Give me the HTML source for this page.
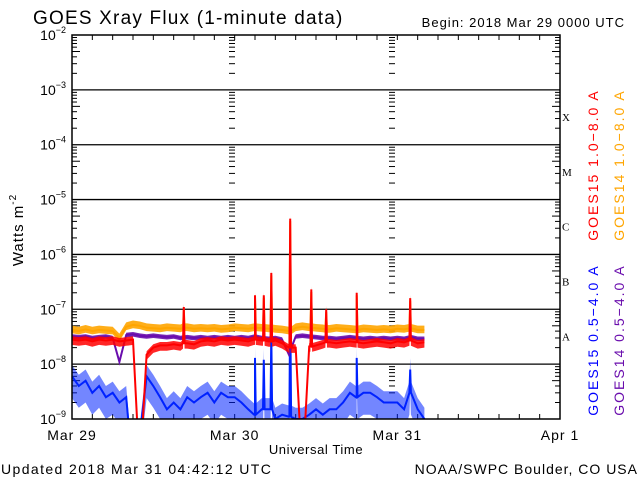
<!DOCTYPE html>
<html><head><meta charset="utf-8"><style>
html,body{margin:0;padding:0;background:#fff;width:640px;height:480px;overflow:hidden}
svg{display:block;font-family:"Liberation Sans",sans-serif}
</style></head><body>
<svg id="c" width="640" height="480" xmlns="http://www.w3.org/2000/svg">
<rect width="640" height="480" fill="#fff"/>
<text x="33" y="24" font-size="19" letter-spacing="1.2" fill="#000">GOES Xray Flux (1-minute data)</text>
<text x="625" y="27" font-size="13" letter-spacing="1" text-anchor="end" fill="#000">Begin:  2018 Mar 29 0000 UTC</text>
<text transform="translate(23,230) rotate(-90)" font-size="15" letter-spacing="1" text-anchor="middle" fill="#000">Watts m<tspan dy="-7" font-size="10">-2</tspan></text>
<text x="316" y="454" font-size="13" letter-spacing="0.6" text-anchor="middle" fill="#000">Universal Time</text>
<text x="1" y="474" font-size="14" letter-spacing="1.4" fill="#000">Updated 2018 Mar 31 04:42:12 UTC</text>
<text x="638" y="474" font-size="14" letter-spacing="1" text-anchor="end" fill="#000">NOAA/SWPC Boulder, CO USA</text>
<text transform="translate(598,165) rotate(-90)" font-size="14" letter-spacing="2" text-anchor="middle" fill="#ff0000">GOES15 1.0−8.0 A</text>
<text transform="translate(624,165) rotate(-90)" font-size="14" letter-spacing="2" text-anchor="middle" fill="#ffa500">GOES14 1.0−8.0 A</text>
<text transform="translate(598,340) rotate(-90)" font-size="14" letter-spacing="2" text-anchor="middle" fill="#0000ff">GOES15 0.5−4.0 A</text>
<text transform="translate(624,340) rotate(-90)" font-size="14" letter-spacing="2" text-anchor="middle" fill="#6a0dad">GOES14 0.5−4.0 A</text>
<g id="axes"></g>
<defs><clipPath id="pc"><rect x="72" y="35" width="488" height="384"/></clipPath></defs>
<g id="data" clip-path="url(#pc)"></g>
<rect x="72" y="35" width="488" height="384" fill="none" stroke="#000" stroke-width="1.5"/>
</svg>
<script>
const yDecades = [-9,-8,-7,-6,-5,-4,-3,-2];
const dayLabels = ["Mar 29","Mar 30","Mar 31","Apr 1"];
const flareClasses = ["A","B","C","M","X"];
const hours = Array.from({length:53},(_,i)=>i);
const g15Long = [2.8e-8,2.7e-8,2.8e-8,2.6e-8,2.8e-8,2.7e-8,2.8e-8,2.6e-8,2.7e-8,2.8e-8,1e-10,1.5e-8,2.0e-8,2.2e-8,2.2e-8,2.3e-8,2.2e-8,2.4e-8,2.3e-8,2.6e-8,2.7e-8,2.6e-8,2.8e-8,2.7e-8,2.8e-8,2.7e-8,2.6e-8,2.8e-8,2.7e-8,2.6e-8,2.7e-8,2.4e-8,2.0e-8,2.0e-8,1e-10,2.1e-8,2.2e-8,2.4e-8,2.5e-8,2.4e-8,2.5e-8,2.6e-8,2.5e-8,2.4e-8,2.5e-8,2.6e-8,2.5e-8,2.4e-8,2.6e-8,2.5e-8,2.7e-8,2.4e-8,2.5e-8];
const g14Long = [4.2e-8,4.0e-8,4.3e-8,4.0e-8,4.2e-8,4.1e-8,4.0e-8,3.0e-8,4.8e-8,5.2e-8,5.0e-8,4.6e-8,4.5e-8,4.4e-8,4.6e-8,4.5e-8,4.4e-8,4.6e-8,4.4e-8,4.5e-8,4.4e-8,4.5e-8,4.3e-8,4.4e-8,4.6e-8,4.5e-8,4.4e-8,4.6e-8,4.5e-8,4.4e-8,4.3e-8,4.2e-8,4.0e-8,4.6e-8,4.8e-8,4.6e-8,4.5e-8,4.4e-8,4.3e-8,4.5e-8,4.4e-8,4.3e-8,4.2e-8,4.4e-8,4.3e-8,4.2e-8,4.3e-8,4.2e-8,4.4e-8,4.3e-8,4.5e-8,4.2e-8,4.2e-8];
const g14Short = [3.2e-8,3.1e-8,3.2e-8,3.0e-8,3.1e-8,3.2e-8,3.0e-8,1.1e-8,3.4e-8,3.5e-8,3.3e-8,3.2e-8,3.3e-8,3.2e-8,3.1e-8,3.2e-8,3.0e-8,3.1e-8,3.0e-8,3.1e-8,3.0e-8,3.1e-8,3.0e-8,3.1e-8,3.0e-8,3.1e-8,3.0e-8,3.2e-8,3.0e-8,2.9e-8,3.0e-8,2.8e-8,1.5e-8,3.2e-8,3.3e-8,3.2e-8,3.1e-8,3.0e-8,3.0e-8,2.9e-8,3.0e-8,3.1e-8,3.0e-8,2.9e-8,3.0e-8,2.9e-8,3.0e-8,2.9e-8,3.0e-8,2.9e-8,3.1e-8,2.9e-8,2.9e-8];
const g15Short = [6e-9,4e-9,5e-9,3e-9,4e-9,2.5e-9,3e-9,2e-9,2.5e-9,1e-10,5e-10,6e-9,4e-9,2.5e-9,1.5e-9,2e-9,1.5e-9,2.5e-9,2e-9,2.5e-9,3e-9,2e-9,3e-9,2.5e-9,2.5e-9,2e-9,1.5e-9,1.2e-9,1.5e-9,1.5e-9,1e-9,1.2e-9,1.1e-9,1e-9,1e-9,1.2e-9,1.5e-9,1.2e-9,1.5e-9,1.5e-9,2e-9,3e-9,2.5e-9,3e-9,3e-9,2.5e-9,2e-9,2e-9,2e-9,1.5e-9,3e-9,1.5e-9,1e-9];
const g15LongSpikeT = [16.5,27.0,28.3,29.4,32.2,35.3,37.5,42.0,49.9];
const g15LongSpikeV = [1.1e-7,1.8e-7,1.8e-7,4.6e-7,4.5e-6,2.3e-7,1.0e-7,2.0e-7,1.6e-7];
const g15ShortSpikeT = [27.0,28.3,29.4,32.2,42.0,49.9];
const g15ShortSpikeV = [1.3e-8,1.2e-8,3.6e-8,1.7e-7,1.3e-8,8e-9];

const X0=72,X1=560,Y0=35,Y1=419,DAY=(X1-X0)/3;
const xs=h=>X0+h/24*DAY;
const ys=v=>Y1-(Math.log10(v)+9)*(Y1-Y0)/7;
const NS="http://www.w3.org/2000/svg";
function mk(tag,attrs,parent){const e=document.createElementNS(NS,tag);for(const k in attrs)e.setAttribute(k,attrs[k]);parent.appendChild(e);return e;}
const ax=document.getElementById('axes'),dg=document.getElementById('data');
yDecades.forEach((d,i)=>{
  const y=ys(Math.pow(10,d));
  if(d>-9&&d<-2){const l=mk('line',{x1:X0,x2:X1,y1:y,y2:y,stroke:'#000','stroke-width':1.3},ax);
  
  }
  const t=mk('text',{x:X0-6,y:y+5,'font-size':14,'text-anchor':'end',fill:'#000'},ax);
  
  
  t.textContent='10';const s=mk('tspan',{dy:-7,'font-size':9},t);s.textContent=String.fromCharCode(8722)+(-d);
  if(d<-2){for(let m=2;m<=9;m++){const ym=ys(m*Math.pow(10,d));const len=(m===5?8:5);
    mk('line',{x1:X0,x2:X0+len,y1:ym,y2:ym,stroke:'#000','stroke-width':1},ax);
    mk('line',{x1:X1-len,x2:X1,y1:ym,y2:ym,stroke:'#000','stroke-width':1},ax);
    [232,392].forEach(xd=>mk('line',{x1:xd-3,x2:xd+3,y1:ym,y2:ym,stroke:'#000','stroke-width':1},ax));}}
});
dayLabels.forEach((lab,i)=>{const t=mk('text',{x:X0+i*DAY,y:440,'font-size':14,'letter-spacing':1,'text-anchor':'middle',fill:'#000'},ax);
  
  
  t.textContent=lab;});
for(let h=3;h<72;h+=3){const x=xs(h);mk('line',{x1:x,x2:x,y1:Y1,y2:Y1-5,stroke:'#000'},ax);mk('line',{x1:x,x2:x,y1:Y0,y2:Y0+5,stroke:'#000'},ax);}
flareClasses.forEach((c,i)=>{const t=mk('text',{x:562,y:ys(Math.pow(10,-8+i)*3.2)+4,'font-size':11,fill:'#000','font-family':'Liberation Serif,serif'},ax);
  
  
  t.textContent=c;});
function pts(vals,st,sv){
  let p=[];hours.forEach((h,i)=>p.push([h,vals[i]]));
  st.forEach((t,i)=>{p.push([t-0.12,vals[Math.round(t)]]);p.push([t,sv[i]]);p.push([t+0.12,vals[Math.round(t)]]);});
  p.sort((a,b)=>a[0]-b[0]);return p;
}
function series(vals,st,sv,col,name,w,up,dn,op){
  const p=pts(vals,st,sv);
  const top=p.map(q=>xs(q[0]).toFixed(1)+','+(ys(q[1]*up)).toFixed(1));
  const bot=p.slice().reverse().map(q=>xs(q[0]).toFixed(1)+','+(ys(q[1]/dn)).toFixed(1));
  const b=mk('polygon',{points:top.concat(bot).join(' '),fill:col,'fill-opacity':op,stroke:'none'},dg);
  
  
  const l=mk('polyline',{points:p.map(q=>xs(q[0]).toFixed(1)+','+ys(q[1]).toFixed(1)).join(' '),fill:'none',stroke:col,'stroke-width':w},dg);
  
  
}
series(g15Short,g15ShortSpikeT,g15ShortSpikeV,'#0022ff','series-goes15-short',2,1.6,2.5,0.55);
series(g14Long,g15LongSpikeT,g15LongSpikeV.map(v=>v*0.9),'#ffa500','series-goes14-long',2,1.2,1.15,0.9);
series(g14Short,[],[],'#6a0dad','series-goes14-short',2,1.1,1.1,0.9);
series(g15Long,g15LongSpikeT,g15LongSpikeV,'#ff0000','series-goes15-long',2,1.15,1.25,0.85);
</script>
</body></html>
